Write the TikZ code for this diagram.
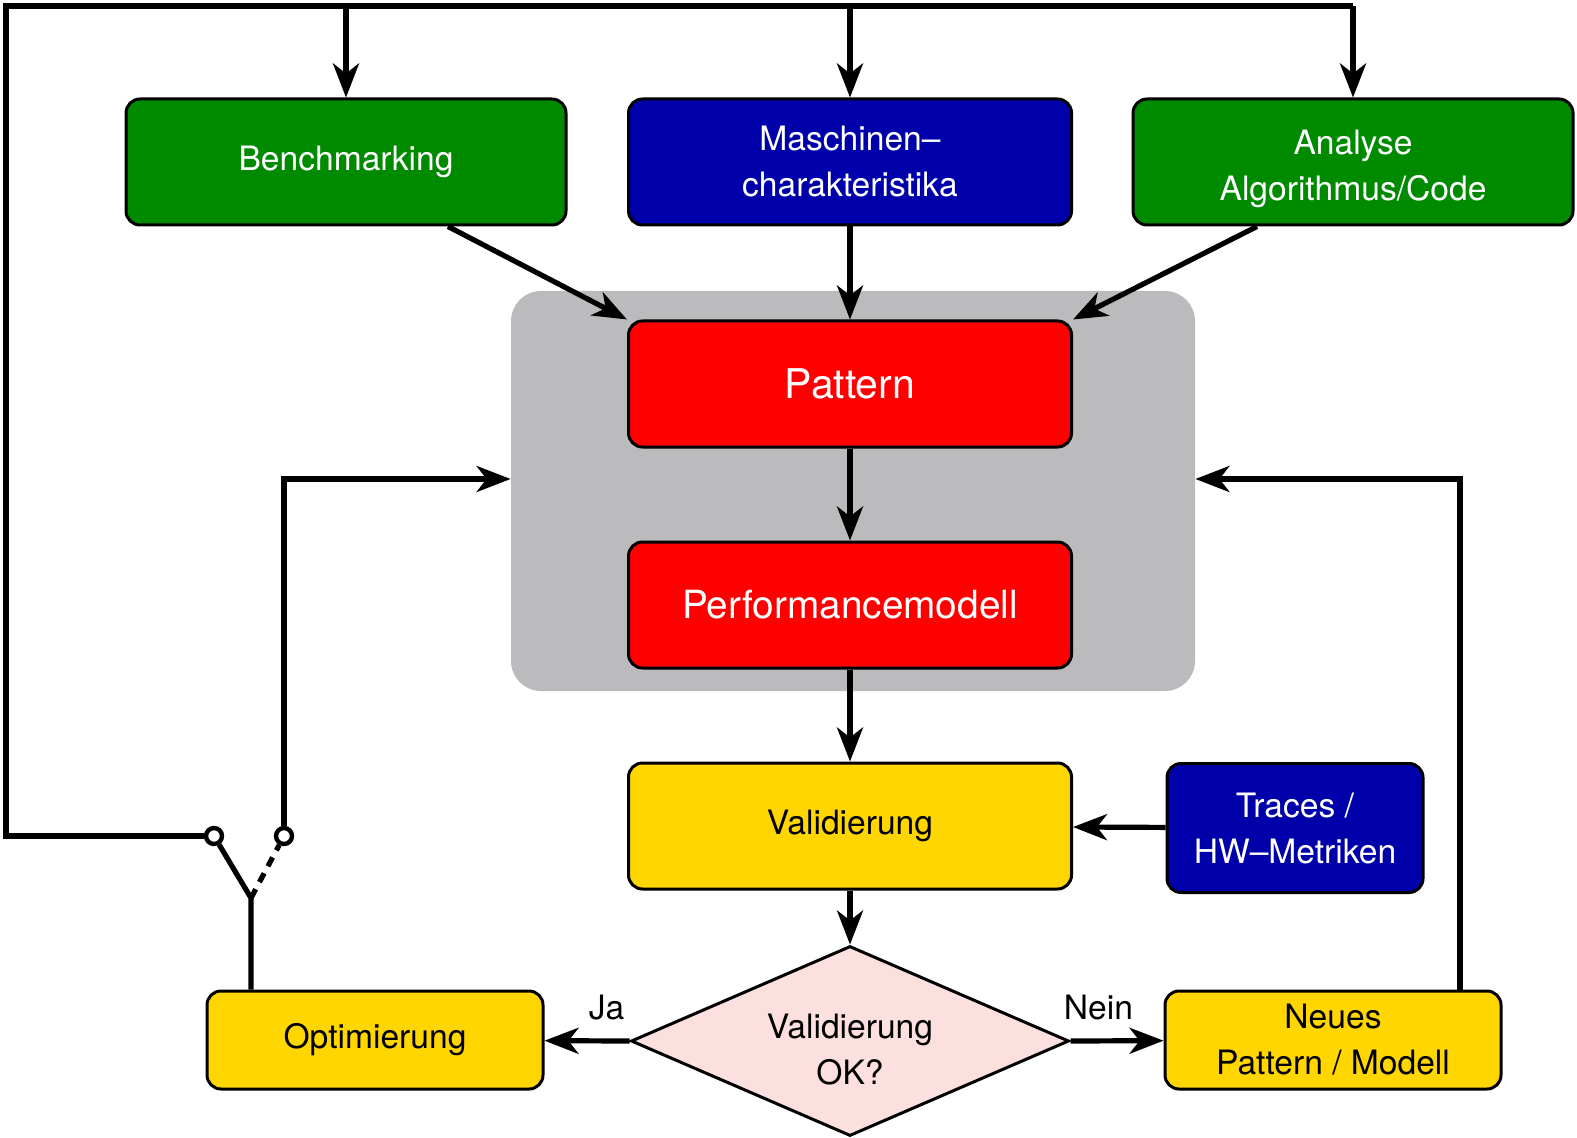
\documentclass[tikz,border=0pt]{standalone}
\usepackage{fontspec}
\setmainfont{TeX Gyre Heros}
\usetikzlibrary{shapes.geometric,arrows.meta}

\definecolor{boxgreen}{RGB}{0,138,0}
\definecolor{boxblue}{RGB}{0,0,170}
\definecolor{boxred}{RGB}{255,0,0}
\definecolor{boxyellow}{RGB}{255,214,0}
\definecolor{panelgray}{RGB}{187,186,189}
\definecolor{decpink}{RGB}{252,224,224}

\begin{document}
\begin{tikzpicture}[x=0.5pt,y=-0.5pt,
    box/.style={draw=black,line width=1.5pt,rounded corners=7pt,minimum width=220pt,minimum height=63pt,align=center,font=\fontsize{16.8}{23}\selectfont},
    arr/.style={line width=2.6pt,-{Stealth[length=17pt,width=13pt,inset=5pt]}},
    wire/.style={line width=2.6pt},
    contact/.style={circle,draw=black,fill=white,line width=2.2pt,inner sep=0pt,minimum size=8pt}]
    \useasboundingbox (0,0) rectangle (1577,1138);

    % Gray panel behind the model
    \node[fill=panelgray,rounded corners=15pt,minimum width=342pt,minimum height=200pt] (core) at (853,491) {};

    % Input boxes
    \node[box,fill=boxgreen,text=white] (bench) at (346,162) {Benchmarking};
    \node[box,fill=boxblue,text=white,minimum width=221.5pt] (machine) at (850,162) {Maschinen–\\charakteristika};
    \node[box,fill=boxgreen] (algo) at (1353,162) {};
    \node[align=center,text=white,font=\fontsize{16.8}{23}\selectfont] (algotext) at (1353,169) {Analyse\\Algorithmus/Code};

    % Model boxes
    \node[box,fill=boxred,text=white,minimum width=221.5pt,font=\fontsize{20.5}{24}\selectfont] (pattern) at (850,384) {Pattern};
    \node[box,fill=boxred,text=white,minimum width=221.5pt,font=\fontsize{19.4}{24}\selectfont] (perf) at (850,605) {Performancemodell};

    % Validation
    \node[box,fill=boxyellow,minimum width=221.5pt] (valid) at (850,826) {Validierung};
    \node[box,fill=boxblue,text=white,minimum width=128pt,minimum height=64.5pt] (traces) at (1295,828) {Traces /\\HW–Metriken};
    \node[diamond,draw=black,fill=decpink,line width=1.5pt,aspect=2.3,inner sep=0pt,minimum width=219pt,minimum height=95pt] (check) at (850,1041) {};
    \node[align=center,font=\fontsize{16.8}{23}\selectfont] (checktext) at (850,1050) {Validierung\\OK?};

    % Outcomes
    \node[box,fill=boxyellow,minimum width=168pt,minimum height=49pt] (opt) at (375,1040) {Optimierung};
    \node[box,fill=boxyellow,minimum width=168pt,minimum height=49pt] (newpat) at (1333,1040) {Neues\\Pattern / Modell};

    % Switch
    \coordinate (pivot) at (251,898);
    \node[contact] (swoff) at (214,836) {};
    \node[contact] (swon) at (284,836) {};
    \coordinate (top) at (0,6);
    \coordinate (loopy) at (0,479);

    % Main flow
    \draw[arr] (machine) -- (pattern);
    \draw[arr] ([xshift=51pt]bench.south) -- (pattern.north west);
    \draw[arr] ([xshift=-48pt]algo.south) -- (pattern.north east);
    \draw[arr] (pattern) -- (perf);
    \draw[arr] (perf) -- (valid);
    \draw[arr] (traces) -- (valid);
    \draw[arr] (valid) -- (check);
    \draw[arr] (check.west) -- node[pos=0.27,above=6pt,font=\fontsize{16.8}{23}\selectfont] (ja) {Ja} (opt);
    \draw[arr] (check.east) -- node[pos=0.3,above=6pt,font=\fontsize{16.8}{23}\selectfont] (nein) {Nein} (newpat);

    % Feedback loops
    \draw[wire] (pivot |- opt.north) -- (pivot) -- (swoff);
    \draw[wire,dashed,dash pattern=on 5pt off 4pt] (pivot) -- (swon);
    \draw[wire] (swoff) -- (6,836) -- (6,6) -- (algo.north |- top);
    \draw[arr] (bench.north |- top) -- (bench.north);
    \draw[arr] (machine.north |- top) -- (machine.north);
    \draw[arr] (algo.north |- top) -- (algo.north);
    \draw[arr] (swon) -- (swon |- loopy) -- (core.west |- loopy);
    \draw[arr] ([xshift=63.5pt]newpat.north) -- ([xshift=63.5pt]newpat.north |- loopy) -- (core.east |- loopy);
\end{tikzpicture}
\end{document}
